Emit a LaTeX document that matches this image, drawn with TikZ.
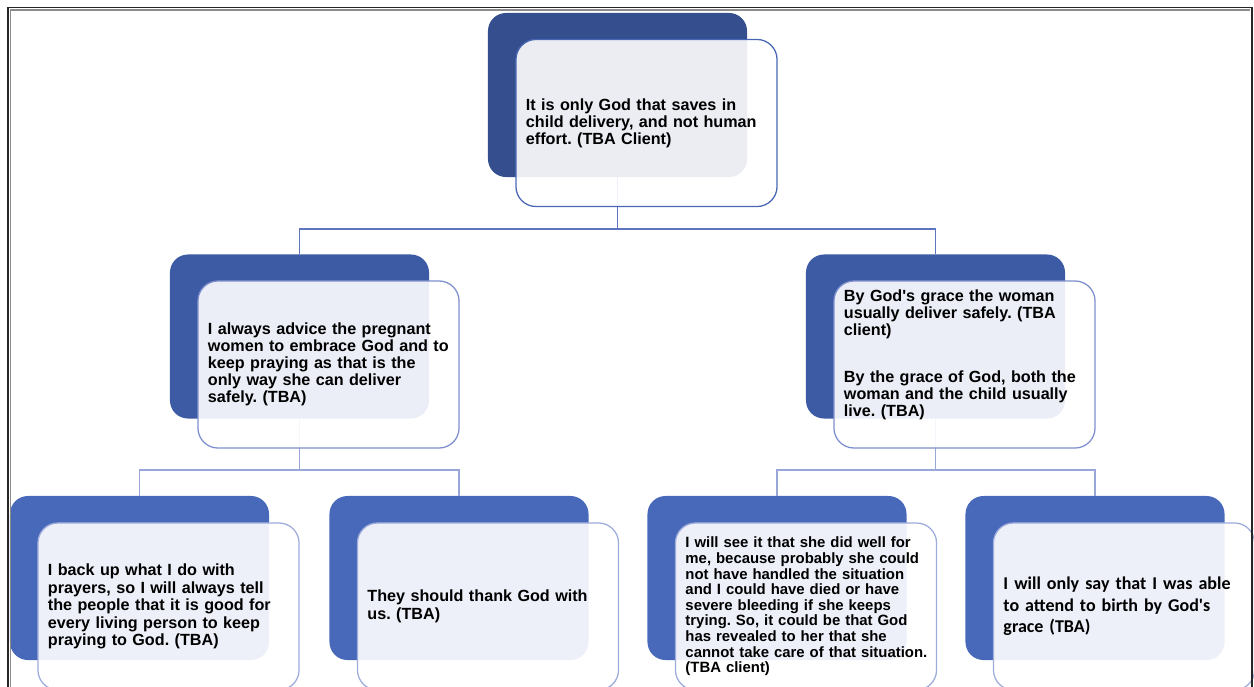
\documentclass[tikz,border=0pt]{standalone}
\usepackage{fontspec}
\setmainfont{Liberation Sans}
\newfontfamily\calibrifont{Carlito}
\frenchspacing
\usetikzlibrary{positioning}
\definecolor{navyA}{RGB}{52,78,142}
\definecolor{navyB}{RGB}{61,90,164}
\definecolor{navyC}{RGB}{72,104,185}
\definecolor{edgeA}{RGB}{72,102,180}
\definecolor{edgeB}{RGB}{125,143,205}
\definecolor{edgeC}{RGB}{158,172,220}
\definecolor{linkA}{RGB}{95,116,190}
\definecolor{linkB}{RGB}{152,166,216}
\tikzset{
    backbox/.style={fill=#1, rounded corners=0.45cm, minimum width=6.475cm, minimum height=4.1cm, inner sep=0pt},
    card/.style={draw=#1, line width=0.9pt, fill=white, fill opacity=0.9, text opacity=1, rounded corners=0.5cm,
        minimum width=6.525cm, minimum height=4.175cm, text width=6.025cm, inner xsep=0.25cm, inner ysep=0pt, align=left,
        execute at begin node={\hyphenpenalty=10000\exhyphenpenalty=10000\hbadness=10000\hfuzz=20pt}},
    link/.style={draw=#1, line width=1.2pt},
    txt/.style={font=\bfseries\fontsize{11.5}{12.1}\selectfont},
    txtlow/.style={font=\bfseries\fontsize{11.5}{12.4}\selectfont},
    txtsmall/.style={font=\bfseries\fontsize{10.6}{11.1}\selectfont},
    txtcal/.style={font=\calibrifont\bfseries\fontsize{12.8}{15.3}\selectfont}
}
\begin{document}
\begin{tikzpicture}[x=0.025cm, y=-0.025cm]
    \useasboundingbox (0,0) rectangle (1254,686);
    \clip (0,0) rectangle (1254,686);

    % Back panels
    \node[backbox=navyA] (root) at (617.5,95) {};
    \node[backbox=navyB] (left) at (299.5,336.5) {};
    \node[backbox=navyB] (right) at (935.5,336.5) {};
    \node[backbox=navyC] (LL) at (139.5,578) {};
    \node[backbox=navyC] (LR) at (459,578) {};
    \node[backbox=navyC] (RL) at (777,578) {};
    \node[backbox=navyC] (RR) at (1095,578) {};

    % Links between levels
    \draw[link=linkA] (root.south) -- ++(0,52) -| (left.north);
    \draw[link=linkA] (root.south) -- ++(0,52) -| (right.north);
    \draw[link=linkB] (left.south) -- ++(0,51.5) -| (LL.north);
    \draw[link=linkB] (left.south) -- ++(0,51.5) -| (LR.north);
    \draw[link=linkB] (right.south) -- ++(0,51.5) -| (RL.north);
    \draw[link=linkB] (right.south) -- ++(0,51.5) -| (RR.north);

    % Text cards
    \node[card=edgeA, txt] (rootcard) at ([shift={(29,28)}]root) {It is only God that saves in\\ child delivery, and not human\\ effort. (TBA Client)};
    \node[card=edgeB, txt] (leftcard) at ([shift={(29,28)}]left) {I always advice the pregnant\\ women to embrace God and to\\ keep praying as that is the\\ only way she can deliver\\ safely. (TBA)};
    \node[card=edgeB, txt] (rightcard) at ([shift={(29,28)}]right) {By God\textquotesingle s grace the woman\\ usually deliver safely. (TBA\\ client)\\[0.75cm] By the grace of God, both the\\ woman and the child usually\\ live. (TBA)\rule[-0.575cm]{0pt}{0.575cm}};
    \node[card=edgeC, txtlow] (LLcard) at ([shift={(29,28.5)}]LL) {I back up what I do with\\ prayers, so I will always tell\\ the people that it is good for\\ every living person to keep\\ praying to God. (TBA)};
    \node[card=edgeC, txtlow] (LRcard) at ([shift={(29,28.5)}]LR) {They should thank God with\\ us. (TBA)};
    \node[card=edgeC, txtsmall] (RLcard) at ([shift={(29,28.5)}]RL) {I will see it that she did well for\\ me, because probably she could\\ not have handled the situation\\ and I could have died or have\\ severe bleeding if she keeps\\ trying. So, it could be that God\\ has revealed to her that she\\ \mbox{cannot take care of that situation.}\\ (TBA client)};
    \node[card=edgeC, txtcal] (RRcard) at ([shift={(29,28.5)}]RR) {I will only say that I was able\\ to attend to birth by God\textquotesingle s\\ grace (TBA)};

    % Window frame
    \draw[black!85, line width=0.045cm] (8,690) -- (8,7.5) -- (1252,7.5) -- (1252,690);
    \draw[black!45, line width=0.035cm] (10.5,690) -- (10.5,10) -- (1249.5,10);
\end{tikzpicture}
\end{document}
